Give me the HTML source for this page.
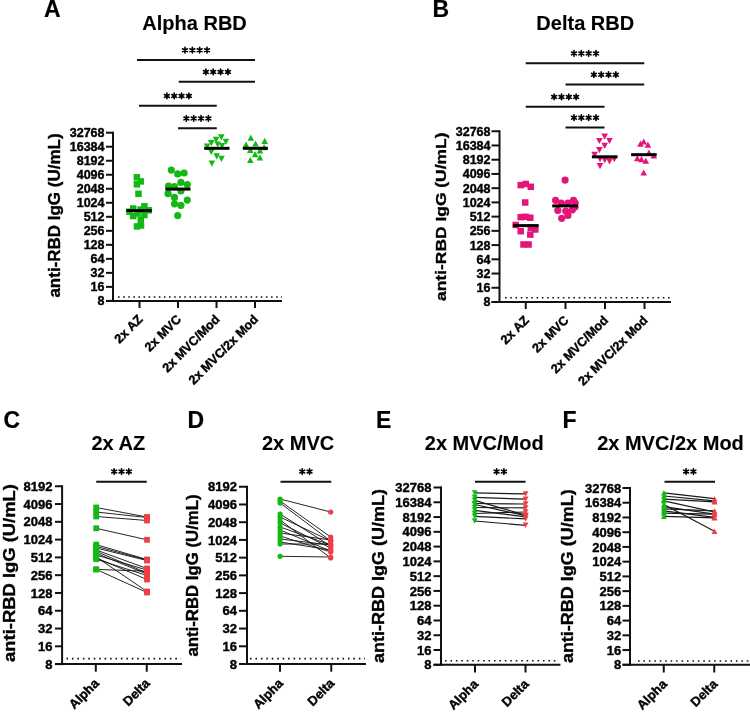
<!DOCTYPE html>
<html><head><meta charset="utf-8"><style>
html,body{margin:0;padding:0;background:#fff;width:750px;height:712px;overflow:hidden}
svg{display:block;will-change:transform}
text{font-family:"Liberation Sans", sans-serif;fill:#000;stroke:#000;stroke-width:0.4px}
</style></head><body>
<svg width="750" height="712" viewBox="0 0 750 712">
<rect x="133.65" y="174.05" width="6.5" height="6.5" fill="#14b814"/>
<rect x="137.55" y="178.15" width="6.5" height="6.5" fill="#14b814"/>
<rect x="133.65" y="181.05" width="6.5" height="6.5" fill="#14b814"/>
<rect x="135.25" y="190.55" width="6.5" height="6.5" fill="#14b814"/>
<rect x="129.95" y="205.25" width="6.5" height="6.5" fill="#14b814"/>
<rect x="141.15" y="203.05" width="6.5" height="6.5" fill="#14b814"/>
<rect x="137.35" y="206.35" width="6.5" height="6.5" fill="#14b814"/>
<rect x="145.45" y="207.05" width="6.5" height="6.5" fill="#14b814"/>
<rect x="126.25" y="208.45" width="6.5" height="6.5" fill="#14b814"/>
<rect x="129.95" y="212.75" width="6.5" height="6.5" fill="#14b814"/>
<rect x="141.15" y="211.75" width="6.5" height="6.5" fill="#14b814"/>
<rect x="137.55" y="216.45" width="6.5" height="6.5" fill="#14b814"/>
<rect x="133.75" y="223.15" width="6.5" height="6.5" fill="#14b814"/>
<rect x="137.75" y="222.25" width="6.5" height="6.5" fill="#14b814"/>
<rect x="134.25" y="210.25" width="6.5" height="6.5" fill="#14b814"/>
<circle cx="171.30" cy="170.10" r="3.6" fill="#14b814"/>
<circle cx="177.70" cy="173.90" r="3.6" fill="#14b814"/>
<circle cx="184.10" cy="173.00" r="3.6" fill="#14b814"/>
<circle cx="180.90" cy="182.40" r="3.6" fill="#14b814"/>
<circle cx="187.30" cy="184.60" r="3.6" fill="#14b814"/>
<circle cx="168.60" cy="186.20" r="3.6" fill="#14b814"/>
<circle cx="174.50" cy="186.70" r="3.6" fill="#14b814"/>
<circle cx="180.90" cy="191.00" r="3.6" fill="#14b814"/>
<circle cx="168.10" cy="193.70" r="3.6" fill="#14b814"/>
<circle cx="174.50" cy="197.40" r="3.6" fill="#14b814"/>
<circle cx="187.30" cy="200.10" r="3.6" fill="#14b814"/>
<circle cx="174.50" cy="203.80" r="3.6" fill="#14b814"/>
<circle cx="180.90" cy="205.40" r="3.6" fill="#14b814"/>
<circle cx="177.70" cy="215.60" r="3.6" fill="#14b814"/>
<polygon points="218.00,134.30 224.60,134.30 221.30,140.50" fill="#14b814"/>
<polygon points="212.80,136.80 219.40,136.80 216.10,143.00" fill="#14b814"/>
<polygon points="222.60,138.80 229.20,138.80 225.90,145.00" fill="#14b814"/>
<polygon points="208.00,140.00 214.60,140.00 211.30,146.20" fill="#14b814"/>
<polygon points="214.40,141.40 221.00,141.40 217.70,147.60" fill="#14b814"/>
<polygon points="203.80,143.60 210.40,143.60 207.10,149.80" fill="#14b814"/>
<polygon points="218.70,142.90 225.30,142.90 222.00,149.10" fill="#14b814"/>
<polygon points="208.00,148.90 214.60,148.90 211.30,155.10" fill="#14b814"/>
<polygon points="213.40,153.20 220.00,153.20 216.70,159.40" fill="#14b814"/>
<polygon points="218.20,155.80 224.80,155.80 221.50,162.00" fill="#14b814"/>
<polygon points="208.60,160.60 215.20,160.60 211.90,166.80" fill="#14b814"/>
<polygon points="247.50,140.70 254.10,140.70 250.80,134.50" fill="#14b814"/>
<polygon points="261.40,143.90 268.00,143.90 264.70,137.70" fill="#14b814"/>
<polygon points="242.70,147.60 249.30,147.60 246.00,141.40" fill="#14b814"/>
<polygon points="252.30,146.60 258.90,146.60 255.60,140.40" fill="#14b814"/>
<polygon points="260.80,150.30 267.40,150.30 264.10,144.10" fill="#14b814"/>
<polygon points="247.00,153.00 253.60,153.00 250.30,146.80" fill="#14b814"/>
<polygon points="256.60,153.50 263.20,153.50 259.90,147.30" fill="#14b814"/>
<polygon points="251.80,157.20 258.40,157.20 255.10,151.00" fill="#14b814"/>
<polygon points="256.60,160.40 263.20,160.40 259.90,154.20" fill="#14b814"/>
<polygon points="247.00,163.10 253.60,163.10 250.30,156.90" fill="#14b814"/>
<line x1="126.2" y1="210.6" x2="151.7" y2="210.6" stroke="#000" stroke-width="3"/>
<line x1="165.4" y1="189.1" x2="190.5" y2="189.1" stroke="#000" stroke-width="3"/>
<line x1="204.2" y1="148.3" x2="229.5" y2="148.3" stroke="#000" stroke-width="3"/>
<line x1="242.8" y1="148.3" x2="267.9" y2="148.3" stroke="#000" stroke-width="3"/>
<rect x="517.45" y="181.85" width="6.5" height="6.5" fill="#e5147a"/>
<rect x="522.55" y="180.75" width="6.5" height="6.5" fill="#e5147a"/>
<rect x="527.55" y="183.55" width="6.5" height="6.5" fill="#e5147a"/>
<rect x="521.95" y="199.25" width="6.5" height="6.5" fill="#e5147a"/>
<rect x="517.45" y="213.85" width="6.5" height="6.5" fill="#e5147a"/>
<rect x="527.05" y="214.45" width="6.5" height="6.5" fill="#e5147a"/>
<rect x="512.45" y="221.75" width="6.5" height="6.5" fill="#e5147a"/>
<rect x="517.45" y="227.95" width="6.5" height="6.5" fill="#e5147a"/>
<rect x="527.55" y="224.55" width="6.5" height="6.5" fill="#e5147a"/>
<rect x="532.05" y="226.25" width="6.5" height="6.5" fill="#e5147a"/>
<rect x="527.05" y="231.35" width="6.5" height="6.5" fill="#e5147a"/>
<rect x="520.25" y="241.25" width="6.5" height="6.5" fill="#e5147a"/>
<rect x="525.35" y="241.25" width="6.5" height="6.5" fill="#e5147a"/>
<rect x="522.25" y="213.55" width="6.5" height="6.5" fill="#e5147a"/>
<circle cx="565.10" cy="180.10" r="3.6" fill="#e5147a"/>
<circle cx="555.60" cy="200.30" r="3.6" fill="#e5147a"/>
<circle cx="573.50" cy="200.30" r="3.6" fill="#e5147a"/>
<circle cx="561.20" cy="203.10" r="3.6" fill="#e5147a"/>
<circle cx="567.90" cy="203.10" r="3.6" fill="#e5147a"/>
<circle cx="575.20" cy="203.10" r="3.6" fill="#e5147a"/>
<circle cx="557.80" cy="210.40" r="3.6" fill="#e5147a"/>
<circle cx="565.70" cy="211.00" r="3.6" fill="#e5147a"/>
<circle cx="572.40" cy="209.80" r="3.6" fill="#e5147a"/>
<circle cx="567.90" cy="215.40" r="3.6" fill="#e5147a"/>
<circle cx="561.70" cy="218.30" r="3.6" fill="#e5147a"/>
<circle cx="575.00" cy="207.00" r="3.6" fill="#e5147a"/>
<polygon points="601.40,133.60 608.00,133.60 604.70,139.80" fill="#e5147a"/>
<polygon points="596.10,137.90 602.70,137.90 599.40,144.10" fill="#e5147a"/>
<polygon points="606.20,137.90 612.80,137.90 609.50,144.10" fill="#e5147a"/>
<polygon points="601.40,142.70 608.00,142.70 604.70,148.90" fill="#e5147a"/>
<polygon points="596.10,147.00 602.70,147.00 599.40,153.20" fill="#e5147a"/>
<polygon points="591.30,151.80 597.90,151.80 594.60,158.00" fill="#e5147a"/>
<polygon points="596.70,156.00 603.30,156.00 600.00,162.20" fill="#e5147a"/>
<polygon points="601.40,157.10 608.00,157.10 604.70,163.30" fill="#e5147a"/>
<polygon points="606.20,158.20 612.80,158.20 609.50,164.40" fill="#e5147a"/>
<polygon points="611.00,156.00 617.60,156.00 614.30,162.20" fill="#e5147a"/>
<polygon points="596.70,163.00 603.30,163.00 600.00,169.20" fill="#e5147a"/>
<polygon points="637.20,146.80 643.80,146.80 640.50,140.60" fill="#e5147a"/>
<polygon points="640.40,144.60 647.00,144.60 643.70,138.40" fill="#e5147a"/>
<polygon points="644.60,147.80 651.20,147.80 647.90,141.60" fill="#e5147a"/>
<polygon points="645.70,155.80 652.30,155.80 649.00,149.60" fill="#e5147a"/>
<polygon points="650.50,158.50 657.10,158.50 653.80,152.30" fill="#e5147a"/>
<polygon points="634.00,161.20 640.60,161.20 637.30,155.00" fill="#e5147a"/>
<polygon points="638.20,162.20 644.80,162.20 641.50,156.00" fill="#e5147a"/>
<polygon points="642.50,163.80 649.10,163.80 645.80,157.60" fill="#e5147a"/>
<polygon points="640.40,175.60 647.00,175.60 643.70,169.40" fill="#e5147a"/>
<line x1="512.9" y1="225.6" x2="538.7" y2="225.6" stroke="#000" stroke-width="3"/>
<line x1="552.2" y1="205.9" x2="578" y2="205.9" stroke="#000" stroke-width="3"/>
<line x1="591.9" y1="156.8" x2="617.5" y2="156.8" stroke="#000" stroke-width="3"/>
<line x1="631.1" y1="154.7" x2="656.7" y2="154.7" stroke="#000" stroke-width="3"/>
<line x1="96.2" y1="507.5" x2="147" y2="517" stroke="#1a1a1a" stroke-width="0.95"/>
<line x1="96.2" y1="512" x2="147" y2="517.5" stroke="#1a1a1a" stroke-width="0.95"/>
<line x1="96.2" y1="516.5" x2="147" y2="520.5" stroke="#1a1a1a" stroke-width="0.95"/>
<line x1="96.2" y1="528.3" x2="147" y2="539.8" stroke="#1a1a1a" stroke-width="0.95"/>
<line x1="96.2" y1="544.6" x2="147" y2="559.5" stroke="#1a1a1a" stroke-width="0.95"/>
<line x1="96.2" y1="546.4" x2="147" y2="560" stroke="#1a1a1a" stroke-width="0.95"/>
<line x1="96.2" y1="548" x2="147" y2="560.5" stroke="#1a1a1a" stroke-width="0.95"/>
<line x1="96.2" y1="550" x2="147" y2="568.5" stroke="#1a1a1a" stroke-width="0.95"/>
<line x1="96.2" y1="551.4" x2="147" y2="573" stroke="#1a1a1a" stroke-width="0.95"/>
<line x1="96.2" y1="553.3" x2="147" y2="574" stroke="#1a1a1a" stroke-width="0.95"/>
<line x1="96.2" y1="555" x2="147" y2="570" stroke="#1a1a1a" stroke-width="0.95"/>
<line x1="96.2" y1="556.9" x2="147" y2="591.5" stroke="#1a1a1a" stroke-width="0.95"/>
<line x1="96.2" y1="557.8" x2="147" y2="579.5" stroke="#1a1a1a" stroke-width="0.95"/>
<line x1="96.2" y1="559.2" x2="147" y2="575.5" stroke="#1a1a1a" stroke-width="0.95"/>
<line x1="96.2" y1="569.4" x2="147" y2="571.2" stroke="#1a1a1a" stroke-width="0.95"/>
<line x1="96.2" y1="569.4" x2="147" y2="592.5" stroke="#1a1a1a" stroke-width="0.95"/>
<rect x="93.30" y="504.60" width="5.8" height="5.8" fill="#14b814"/>
<rect x="93.30" y="509.10" width="5.8" height="5.8" fill="#14b814"/>
<rect x="93.30" y="513.60" width="5.8" height="5.8" fill="#14b814"/>
<rect x="93.30" y="525.40" width="5.8" height="5.8" fill="#14b814"/>
<rect x="93.30" y="541.70" width="5.8" height="5.8" fill="#14b814"/>
<rect x="93.30" y="543.50" width="5.8" height="5.8" fill="#14b814"/>
<rect x="93.30" y="545.10" width="5.8" height="5.8" fill="#14b814"/>
<rect x="93.30" y="547.10" width="5.8" height="5.8" fill="#14b814"/>
<rect x="93.30" y="548.50" width="5.8" height="5.8" fill="#14b814"/>
<rect x="93.30" y="550.40" width="5.8" height="5.8" fill="#14b814"/>
<rect x="93.30" y="552.10" width="5.8" height="5.8" fill="#14b814"/>
<rect x="93.30" y="554.00" width="5.8" height="5.8" fill="#14b814"/>
<rect x="93.30" y="554.90" width="5.8" height="5.8" fill="#14b814"/>
<rect x="93.30" y="556.30" width="5.8" height="5.8" fill="#14b814"/>
<rect x="93.30" y="566.50" width="5.8" height="5.8" fill="#14b814"/>
<rect x="93.30" y="566.50" width="5.8" height="5.8" fill="#14b814"/>
<rect x="144.10" y="514.10" width="5.8" height="5.8" fill="#ef3e47"/>
<rect x="144.10" y="514.60" width="5.8" height="5.8" fill="#ef3e47"/>
<rect x="144.10" y="517.60" width="5.8" height="5.8" fill="#ef3e47"/>
<rect x="144.10" y="536.90" width="5.8" height="5.8" fill="#ef3e47"/>
<rect x="144.10" y="556.60" width="5.8" height="5.8" fill="#ef3e47"/>
<rect x="144.10" y="557.10" width="5.8" height="5.8" fill="#ef3e47"/>
<rect x="144.10" y="557.60" width="5.8" height="5.8" fill="#ef3e47"/>
<rect x="144.10" y="565.60" width="5.8" height="5.8" fill="#ef3e47"/>
<rect x="144.10" y="570.10" width="5.8" height="5.8" fill="#ef3e47"/>
<rect x="144.10" y="571.10" width="5.8" height="5.8" fill="#ef3e47"/>
<rect x="144.10" y="567.10" width="5.8" height="5.8" fill="#ef3e47"/>
<rect x="144.10" y="588.60" width="5.8" height="5.8" fill="#ef3e47"/>
<rect x="144.10" y="576.60" width="5.8" height="5.8" fill="#ef3e47"/>
<rect x="144.10" y="572.60" width="5.8" height="5.8" fill="#ef3e47"/>
<rect x="144.10" y="568.30" width="5.8" height="5.8" fill="#ef3e47"/>
<rect x="144.10" y="589.60" width="5.8" height="5.8" fill="#ef3e47"/>
<line x1="280.1" y1="499" x2="330.7" y2="512" stroke="#1a1a1a" stroke-width="0.95"/>
<line x1="280.1" y1="501" x2="330.7" y2="537" stroke="#1a1a1a" stroke-width="0.95"/>
<line x1="280.1" y1="503" x2="330.7" y2="541" stroke="#1a1a1a" stroke-width="0.95"/>
<line x1="280.1" y1="514" x2="330.7" y2="546" stroke="#1a1a1a" stroke-width="0.95"/>
<line x1="280.1" y1="517" x2="330.7" y2="541" stroke="#1a1a1a" stroke-width="0.95"/>
<line x1="280.1" y1="520" x2="330.7" y2="558" stroke="#1a1a1a" stroke-width="0.95"/>
<line x1="280.1" y1="523" x2="330.7" y2="548" stroke="#1a1a1a" stroke-width="0.95"/>
<line x1="280.1" y1="527" x2="330.7" y2="545" stroke="#1a1a1a" stroke-width="0.95"/>
<line x1="280.1" y1="530" x2="330.7" y2="551" stroke="#1a1a1a" stroke-width="0.95"/>
<line x1="280.1" y1="533" x2="330.7" y2="540" stroke="#1a1a1a" stroke-width="0.95"/>
<line x1="280.1" y1="536" x2="330.7" y2="552" stroke="#1a1a1a" stroke-width="0.95"/>
<line x1="280.1" y1="539" x2="330.7" y2="545" stroke="#1a1a1a" stroke-width="0.95"/>
<line x1="280.1" y1="542" x2="330.7" y2="550" stroke="#1a1a1a" stroke-width="0.95"/>
<line x1="280.1" y1="544" x2="330.7" y2="544" stroke="#1a1a1a" stroke-width="0.95"/>
<line x1="280.1" y1="556.3" x2="330.7" y2="557" stroke="#1a1a1a" stroke-width="0.95"/>
<circle cx="280.10" cy="499.00" r="2.6" fill="#14b814"/>
<circle cx="280.10" cy="501.00" r="2.6" fill="#14b814"/>
<circle cx="280.10" cy="503.00" r="2.6" fill="#14b814"/>
<circle cx="280.10" cy="514.00" r="2.6" fill="#14b814"/>
<circle cx="280.10" cy="517.00" r="2.6" fill="#14b814"/>
<circle cx="280.10" cy="520.00" r="2.6" fill="#14b814"/>
<circle cx="280.10" cy="523.00" r="2.6" fill="#14b814"/>
<circle cx="280.10" cy="527.00" r="2.6" fill="#14b814"/>
<circle cx="280.10" cy="530.00" r="2.6" fill="#14b814"/>
<circle cx="280.10" cy="533.00" r="2.6" fill="#14b814"/>
<circle cx="280.10" cy="536.00" r="2.6" fill="#14b814"/>
<circle cx="280.10" cy="539.00" r="2.6" fill="#14b814"/>
<circle cx="280.10" cy="542.00" r="2.6" fill="#14b814"/>
<circle cx="280.10" cy="544.00" r="2.6" fill="#14b814"/>
<circle cx="280.10" cy="556.30" r="2.6" fill="#14b814"/>
<circle cx="330.70" cy="512.00" r="2.6" fill="#ef3e47"/>
<circle cx="330.70" cy="537.00" r="2.6" fill="#ef3e47"/>
<circle cx="330.70" cy="541.00" r="2.6" fill="#ef3e47"/>
<circle cx="330.70" cy="546.00" r="2.6" fill="#ef3e47"/>
<circle cx="330.70" cy="541.00" r="2.6" fill="#ef3e47"/>
<circle cx="330.70" cy="558.00" r="2.6" fill="#ef3e47"/>
<circle cx="330.70" cy="548.00" r="2.6" fill="#ef3e47"/>
<circle cx="330.70" cy="545.00" r="2.6" fill="#ef3e47"/>
<circle cx="330.70" cy="551.00" r="2.6" fill="#ef3e47"/>
<circle cx="330.70" cy="540.00" r="2.6" fill="#ef3e47"/>
<circle cx="330.70" cy="552.00" r="2.6" fill="#ef3e47"/>
<circle cx="330.70" cy="545.00" r="2.6" fill="#ef3e47"/>
<circle cx="330.70" cy="550.00" r="2.6" fill="#ef3e47"/>
<circle cx="330.70" cy="544.00" r="2.6" fill="#ef3e47"/>
<circle cx="330.70" cy="557.00" r="2.6" fill="#ef3e47"/>
<line x1="474.7" y1="492.9" x2="525.6" y2="493.9" stroke="#1a1a1a" stroke-width="1.2"/>
<line x1="474.7" y1="497.3" x2="525.6" y2="499.2" stroke="#1a1a1a" stroke-width="1.2"/>
<line x1="474.7" y1="500.3" x2="525.6" y2="515.2" stroke="#1a1a1a" stroke-width="1.2"/>
<line x1="474.7" y1="503.5" x2="525.6" y2="504" stroke="#1a1a1a" stroke-width="1.2"/>
<line x1="474.7" y1="504.5" x2="525.6" y2="515.7" stroke="#1a1a1a" stroke-width="1.2"/>
<line x1="474.7" y1="507.5" x2="525.6" y2="507.9" stroke="#1a1a1a" stroke-width="1.2"/>
<line x1="474.7" y1="510.3" x2="525.6" y2="516.8" stroke="#1a1a1a" stroke-width="1.2"/>
<line x1="474.7" y1="513.5" x2="525.6" y2="512" stroke="#1a1a1a" stroke-width="1.2"/>
<line x1="474.7" y1="516.3" x2="525.6" y2="518.9" stroke="#1a1a1a" stroke-width="1.2"/>
<line x1="474.7" y1="521" x2="525.6" y2="525.3" stroke="#1a1a1a" stroke-width="1.2"/>
<polygon points="471.80,490.20 477.60,490.20 474.70,495.60" fill="#14b814"/>
<polygon points="471.80,494.60 477.60,494.60 474.70,500.00" fill="#14b814"/>
<polygon points="471.80,497.60 477.60,497.60 474.70,503.00" fill="#14b814"/>
<polygon points="471.80,500.80 477.60,500.80 474.70,506.20" fill="#14b814"/>
<polygon points="471.80,501.80 477.60,501.80 474.70,507.20" fill="#14b814"/>
<polygon points="471.80,504.80 477.60,504.80 474.70,510.20" fill="#14b814"/>
<polygon points="471.80,507.60 477.60,507.60 474.70,513.00" fill="#14b814"/>
<polygon points="471.80,510.80 477.60,510.80 474.70,516.20" fill="#14b814"/>
<polygon points="471.80,513.60 477.60,513.60 474.70,519.00" fill="#14b814"/>
<polygon points="471.80,518.30 477.60,518.30 474.70,523.70" fill="#14b814"/>
<polygon points="522.70,491.20 528.50,491.20 525.60,496.60" fill="#ef3e47"/>
<polygon points="522.70,496.50 528.50,496.50 525.60,501.90" fill="#ef3e47"/>
<polygon points="522.70,512.50 528.50,512.50 525.60,517.90" fill="#ef3e47"/>
<polygon points="522.70,501.30 528.50,501.30 525.60,506.70" fill="#ef3e47"/>
<polygon points="522.70,513.00 528.50,513.00 525.60,518.40" fill="#ef3e47"/>
<polygon points="522.70,505.20 528.50,505.20 525.60,510.60" fill="#ef3e47"/>
<polygon points="522.70,514.10 528.50,514.10 525.60,519.50" fill="#ef3e47"/>
<polygon points="522.70,509.30 528.50,509.30 525.60,514.70" fill="#ef3e47"/>
<polygon points="522.70,516.20 528.50,516.20 525.60,521.60" fill="#ef3e47"/>
<polygon points="522.70,522.60 528.50,522.60 525.60,528.00" fill="#ef3e47"/>
<line x1="663.9" y1="492.8" x2="714.5" y2="498.7" stroke="#1a1a1a" stroke-width="1.2"/>
<line x1="663.9" y1="496" x2="714.5" y2="500.8" stroke="#1a1a1a" stroke-width="1.2"/>
<line x1="663.9" y1="499.2" x2="714.5" y2="501.9" stroke="#1a1a1a" stroke-width="1.2"/>
<line x1="663.9" y1="500.8" x2="714.5" y2="512" stroke="#1a1a1a" stroke-width="1.2"/>
<line x1="663.9" y1="504.5" x2="714.5" y2="531.2" stroke="#1a1a1a" stroke-width="1.2"/>
<line x1="663.9" y1="506.7" x2="714.5" y2="514.1" stroke="#1a1a1a" stroke-width="1.2"/>
<line x1="663.9" y1="508.8" x2="714.5" y2="510.9" stroke="#1a1a1a" stroke-width="1.2"/>
<line x1="663.9" y1="510.9" x2="714.5" y2="517.3" stroke="#1a1a1a" stroke-width="1.2"/>
<line x1="663.9" y1="513.1" x2="714.5" y2="514.1" stroke="#1a1a1a" stroke-width="1.2"/>
<line x1="663.9" y1="516.3" x2="714.5" y2="517.9" stroke="#1a1a1a" stroke-width="1.2"/>
<polygon points="661.00,495.50 666.80,495.50 663.90,490.10" fill="#14b814"/>
<polygon points="661.00,498.70 666.80,498.70 663.90,493.30" fill="#14b814"/>
<polygon points="661.00,501.90 666.80,501.90 663.90,496.50" fill="#14b814"/>
<polygon points="661.00,503.50 666.80,503.50 663.90,498.10" fill="#14b814"/>
<polygon points="661.00,507.20 666.80,507.20 663.90,501.80" fill="#14b814"/>
<polygon points="661.00,509.40 666.80,509.40 663.90,504.00" fill="#14b814"/>
<polygon points="661.00,511.50 666.80,511.50 663.90,506.10" fill="#14b814"/>
<polygon points="661.00,513.60 666.80,513.60 663.90,508.20" fill="#14b814"/>
<polygon points="661.00,515.80 666.80,515.80 663.90,510.40" fill="#14b814"/>
<polygon points="661.00,519.00 666.80,519.00 663.90,513.60" fill="#14b814"/>
<polygon points="711.60,501.40 717.40,501.40 714.50,496.00" fill="#ef3e47"/>
<polygon points="711.60,503.50 717.40,503.50 714.50,498.10" fill="#ef3e47"/>
<polygon points="711.60,504.60 717.40,504.60 714.50,499.20" fill="#ef3e47"/>
<polygon points="711.60,514.70 717.40,514.70 714.50,509.30" fill="#ef3e47"/>
<polygon points="711.60,533.90 717.40,533.90 714.50,528.50" fill="#ef3e47"/>
<polygon points="711.60,516.80 717.40,516.80 714.50,511.40" fill="#ef3e47"/>
<polygon points="711.60,513.60 717.40,513.60 714.50,508.20" fill="#ef3e47"/>
<polygon points="711.60,520.00 717.40,520.00 714.50,514.60" fill="#ef3e47"/>
<polygon points="711.60,516.80 717.40,516.80 714.50,511.40" fill="#ef3e47"/>
<polygon points="711.60,520.60 717.40,520.60 714.50,515.20" fill="#ef3e47"/>
<line x1="113" y1="131.7" x2="113" y2="301.9" stroke="#111" stroke-width="2"/>
<line x1="106" y1="132.7" x2="113" y2="132.7" stroke="#111" stroke-width="2"/>
<text x="104.5" y="137.1375" font-size="12.5" text-anchor="end" font-weight="bold">32768</text>
<line x1="106" y1="146.71666666666664" x2="113" y2="146.71666666666664" stroke="#111" stroke-width="2"/>
<text x="104.5" y="151.15416666666664" font-size="12.5" text-anchor="end" font-weight="bold">16384</text>
<line x1="106" y1="160.73333333333332" x2="113" y2="160.73333333333332" stroke="#111" stroke-width="2"/>
<text x="104.5" y="165.17083333333332" font-size="12.5" text-anchor="end" font-weight="bold">8192</text>
<line x1="106" y1="174.75" x2="113" y2="174.75" stroke="#111" stroke-width="2"/>
<text x="104.5" y="179.1875" font-size="12.5" text-anchor="end" font-weight="bold">4096</text>
<line x1="106" y1="188.76666666666665" x2="113" y2="188.76666666666665" stroke="#111" stroke-width="2"/>
<text x="104.5" y="193.20416666666665" font-size="12.5" text-anchor="end" font-weight="bold">2048</text>
<line x1="106" y1="202.7833333333333" x2="113" y2="202.7833333333333" stroke="#111" stroke-width="2"/>
<text x="104.5" y="207.2208333333333" font-size="12.5" text-anchor="end" font-weight="bold">1024</text>
<line x1="106" y1="216.79999999999998" x2="113" y2="216.79999999999998" stroke="#111" stroke-width="2"/>
<text x="104.5" y="221.23749999999998" font-size="12.5" text-anchor="end" font-weight="bold">512</text>
<line x1="106" y1="230.81666666666666" x2="113" y2="230.81666666666666" stroke="#111" stroke-width="2"/>
<text x="104.5" y="235.25416666666666" font-size="12.5" text-anchor="end" font-weight="bold">256</text>
<line x1="106" y1="244.83333333333331" x2="113" y2="244.83333333333331" stroke="#111" stroke-width="2"/>
<text x="104.5" y="249.27083333333331" font-size="12.5" text-anchor="end" font-weight="bold">128</text>
<line x1="106" y1="258.84999999999997" x2="113" y2="258.84999999999997" stroke="#111" stroke-width="2"/>
<text x="104.5" y="263.28749999999997" font-size="12.5" text-anchor="end" font-weight="bold">64</text>
<line x1="106" y1="272.8666666666667" x2="113" y2="272.8666666666667" stroke="#111" stroke-width="2"/>
<text x="104.5" y="277.3041666666667" font-size="12.5" text-anchor="end" font-weight="bold">32</text>
<line x1="106" y1="286.8833333333333" x2="113" y2="286.8833333333333" stroke="#111" stroke-width="2"/>
<text x="104.5" y="291.3208333333333" font-size="12.5" text-anchor="end" font-weight="bold">16</text>
<line x1="106" y1="300.9" x2="113" y2="300.9" stroke="#111" stroke-width="2"/>
<text x="104.5" y="305.3375" font-size="12.5" text-anchor="end" font-weight="bold">8</text>
<line x1="106" y1="300.9" x2="282" y2="300.9" stroke="#111" stroke-width="2"/>
<line x1="139.5" y1="300.9" x2="139.5" y2="308" stroke="#111" stroke-width="2"/>
<line x1="178" y1="300.9" x2="178" y2="308" stroke="#111" stroke-width="2"/>
<line x1="216.5" y1="300.9" x2="216.5" y2="308" stroke="#111" stroke-width="2"/>
<line x1="255" y1="300.9" x2="255" y2="308" stroke="#111" stroke-width="2"/>
<line x1="118" y1="297" x2="282" y2="297" stroke="#111" stroke-width="1.6" stroke-dasharray="1.6 3.4999999999999996"/>
<text x="143.5" y="320" font-size="12.6" text-anchor="end" font-weight="bold" transform="rotate(-45 143.5 320)">2x AZ</text>
<text x="182" y="320" font-size="12.6" text-anchor="end" font-weight="bold" transform="rotate(-45 182 320)">2x MVC</text>
<text x="220.5" y="320" font-size="12.6" text-anchor="end" font-weight="bold" transform="rotate(-45 220.5 320)">2x MVC/Mod</text>
<text x="259" y="320" font-size="12.6" text-anchor="end" font-weight="bold" transform="rotate(-45 259 320)">2x MVC/2x Mod</text>
<text x="0" y="0" font-size="17" text-anchor="middle" font-weight="bold" transform="translate(59.5 215.5) rotate(-90) scale(1 0.94)">anti-RBD IgG (U/mL)</text>
<text x="44" y="17.4" font-size="23" text-anchor="start" font-weight="bold" style="stroke-width:0.2px">A</text>
<text x="194.6" y="29.6" font-size="20" text-anchor="middle" font-weight="bold" style="stroke-width:0.12px">Alpha RBD</text>
<line x1="499.5" y1="130.25" x2="499.5" y2="303" stroke="#111" stroke-width="2"/>
<line x1="491.5" y1="131.25" x2="499.5" y2="131.25" stroke="#111" stroke-width="2"/>
<text x="490.5" y="135.6875" font-size="12.5" text-anchor="end" font-weight="bold">32768</text>
<line x1="491.5" y1="145.47916666666666" x2="499.5" y2="145.47916666666666" stroke="#111" stroke-width="2"/>
<text x="490.5" y="149.91666666666666" font-size="12.5" text-anchor="end" font-weight="bold">16384</text>
<line x1="491.5" y1="159.70833333333334" x2="499.5" y2="159.70833333333334" stroke="#111" stroke-width="2"/>
<text x="490.5" y="164.14583333333334" font-size="12.5" text-anchor="end" font-weight="bold">8192</text>
<line x1="491.5" y1="173.9375" x2="499.5" y2="173.9375" stroke="#111" stroke-width="2"/>
<text x="490.5" y="178.375" font-size="12.5" text-anchor="end" font-weight="bold">4096</text>
<line x1="491.5" y1="188.16666666666666" x2="499.5" y2="188.16666666666666" stroke="#111" stroke-width="2"/>
<text x="490.5" y="192.60416666666666" font-size="12.5" text-anchor="end" font-weight="bold">2048</text>
<line x1="491.5" y1="202.39583333333331" x2="499.5" y2="202.39583333333331" stroke="#111" stroke-width="2"/>
<text x="490.5" y="206.83333333333331" font-size="12.5" text-anchor="end" font-weight="bold">1024</text>
<line x1="491.5" y1="216.625" x2="499.5" y2="216.625" stroke="#111" stroke-width="2"/>
<text x="490.5" y="221.0625" font-size="12.5" text-anchor="end" font-weight="bold">512</text>
<line x1="491.5" y1="230.85416666666666" x2="499.5" y2="230.85416666666666" stroke="#111" stroke-width="2"/>
<text x="490.5" y="235.29166666666666" font-size="12.5" text-anchor="end" font-weight="bold">256</text>
<line x1="491.5" y1="245.08333333333331" x2="499.5" y2="245.08333333333331" stroke="#111" stroke-width="2"/>
<text x="490.5" y="249.52083333333331" font-size="12.5" text-anchor="end" font-weight="bold">128</text>
<line x1="491.5" y1="259.3125" x2="499.5" y2="259.3125" stroke="#111" stroke-width="2"/>
<text x="490.5" y="263.75" font-size="12.5" text-anchor="end" font-weight="bold">64</text>
<line x1="491.5" y1="273.54166666666663" x2="499.5" y2="273.54166666666663" stroke="#111" stroke-width="2"/>
<text x="490.5" y="277.97916666666663" font-size="12.5" text-anchor="end" font-weight="bold">32</text>
<line x1="491.5" y1="287.7708333333333" x2="499.5" y2="287.7708333333333" stroke="#111" stroke-width="2"/>
<text x="490.5" y="292.2083333333333" font-size="12.5" text-anchor="end" font-weight="bold">16</text>
<line x1="491.5" y1="302.0" x2="499.5" y2="302.0" stroke="#111" stroke-width="2"/>
<text x="490.5" y="306.4375" font-size="12.5" text-anchor="end" font-weight="bold">8</text>
<line x1="491.5" y1="302" x2="671" y2="302" stroke="#111" stroke-width="2"/>
<line x1="525.75" y1="302" x2="525.75" y2="309" stroke="#111" stroke-width="2"/>
<line x1="565.5" y1="302" x2="565.5" y2="309" stroke="#111" stroke-width="2"/>
<line x1="605" y1="302" x2="605" y2="309" stroke="#111" stroke-width="2"/>
<line x1="644.5" y1="302" x2="644.5" y2="309" stroke="#111" stroke-width="2"/>
<line x1="505" y1="297.7" x2="671" y2="297.7" stroke="#111" stroke-width="1.6" stroke-dasharray="1.6 3.6599999999999997"/>
<text x="529.75" y="321" font-size="12.6" text-anchor="end" font-weight="bold" transform="rotate(-45 529.75 321)">2x AZ</text>
<text x="569.5" y="321" font-size="12.6" text-anchor="end" font-weight="bold" transform="rotate(-45 569.5 321)">2x MVC</text>
<text x="609" y="321" font-size="12.6" text-anchor="end" font-weight="bold" transform="rotate(-45 609 321)">2x MVC/Mod</text>
<text x="648.5" y="321" font-size="12.6" text-anchor="end" font-weight="bold" transform="rotate(-45 648.5 321)">2x MVC/2x Mod</text>
<text x="0" y="0" font-size="17.45" text-anchor="middle" font-weight="bold" transform="translate(446 216.75) rotate(-90) scale(1 0.88)">anti-RBD IgG (U/mL)</text>
<text x="432.5" y="17" font-size="23" text-anchor="start" font-weight="bold" style="stroke-width:0.2px">B</text>
<text x="585.25" y="29.8" font-size="20" text-anchor="middle" font-weight="bold" style="stroke-width:0.12px">Delta RBD</text>
<line x1="62.1" y1="485.25" x2="62.1" y2="665.1" stroke="#111" stroke-width="2"/>
<line x1="55" y1="486.25" x2="62.1" y2="486.25" stroke="#111" stroke-width="2"/>
<text x="52.5" y="490.865" font-size="13" text-anchor="end" font-weight="bold">8192</text>
<line x1="55" y1="504.035" x2="62.1" y2="504.035" stroke="#111" stroke-width="2"/>
<text x="52.5" y="508.65000000000003" font-size="13" text-anchor="end" font-weight="bold">4096</text>
<line x1="55" y1="521.82" x2="62.1" y2="521.82" stroke="#111" stroke-width="2"/>
<text x="52.5" y="526.4350000000001" font-size="13" text-anchor="end" font-weight="bold">2048</text>
<line x1="55" y1="539.605" x2="62.1" y2="539.605" stroke="#111" stroke-width="2"/>
<text x="52.5" y="544.22" font-size="13" text-anchor="end" font-weight="bold">1024</text>
<line x1="55" y1="557.39" x2="62.1" y2="557.39" stroke="#111" stroke-width="2"/>
<text x="52.5" y="562.005" font-size="13" text-anchor="end" font-weight="bold">512</text>
<line x1="55" y1="575.175" x2="62.1" y2="575.175" stroke="#111" stroke-width="2"/>
<text x="52.5" y="579.79" font-size="13" text-anchor="end" font-weight="bold">256</text>
<line x1="55" y1="592.96" x2="62.1" y2="592.96" stroke="#111" stroke-width="2"/>
<text x="52.5" y="597.575" font-size="13" text-anchor="end" font-weight="bold">128</text>
<line x1="55" y1="610.745" x2="62.1" y2="610.745" stroke="#111" stroke-width="2"/>
<text x="52.5" y="615.36" font-size="13" text-anchor="end" font-weight="bold">64</text>
<line x1="55" y1="628.53" x2="62.1" y2="628.53" stroke="#111" stroke-width="2"/>
<text x="52.5" y="633.145" font-size="13" text-anchor="end" font-weight="bold">32</text>
<line x1="55" y1="646.315" x2="62.1" y2="646.315" stroke="#111" stroke-width="2"/>
<text x="52.5" y="650.9300000000001" font-size="13" text-anchor="end" font-weight="bold">16</text>
<line x1="55" y1="664.1" x2="62.1" y2="664.1" stroke="#111" stroke-width="2"/>
<text x="52.5" y="668.715" font-size="13" text-anchor="end" font-weight="bold">8</text>
<line x1="55" y1="664.1" x2="182" y2="664.1" stroke="#111" stroke-width="2"/>
<line x1="95.8" y1="664.1" x2="95.8" y2="671.7" stroke="#111" stroke-width="2"/>
<line x1="146.75" y1="664.1" x2="146.75" y2="671.7" stroke="#111" stroke-width="2"/>
<line x1="66.5" y1="658.6" x2="181" y2="658.6" stroke="#111" stroke-width="1.6" stroke-dasharray="1.6 3.8400000000000003"/>
<text x="99.8" y="684.2" font-size="13" text-anchor="end" font-weight="bold" transform="rotate(-45 99.8 684.2)">Alpha</text>
<text x="150.75" y="684.2" font-size="13" text-anchor="end" font-weight="bold" transform="rotate(-45 150.75 684.2)">Delta</text>
<text x="0" y="0" font-size="18.4" text-anchor="middle" font-weight="bold" transform="translate(14.5 573) rotate(-90) scale(1 0.9)">anti-RBD IgG (U/mL)</text>
<text x="3.5" y="427.5" font-size="23" text-anchor="start" font-weight="bold" style="stroke-width:0.2px">C</text>
<text x="118.25" y="449.7" font-size="20" text-anchor="middle" font-weight="bold" style="stroke-width:0.12px">2x AZ</text>
<line x1="247" y1="485.75" x2="247" y2="665" stroke="#111" stroke-width="2"/>
<line x1="239" y1="486.75" x2="247" y2="486.75" stroke="#111" stroke-width="2"/>
<text x="237" y="491.365" font-size="13" text-anchor="end" font-weight="bold">8192</text>
<line x1="239" y1="504.475" x2="247" y2="504.475" stroke="#111" stroke-width="2"/>
<text x="237" y="509.09000000000003" font-size="13" text-anchor="end" font-weight="bold">4096</text>
<line x1="239" y1="522.2" x2="247" y2="522.2" stroke="#111" stroke-width="2"/>
<text x="237" y="526.815" font-size="13" text-anchor="end" font-weight="bold">2048</text>
<line x1="239" y1="539.925" x2="247" y2="539.925" stroke="#111" stroke-width="2"/>
<text x="237" y="544.54" font-size="13" text-anchor="end" font-weight="bold">1024</text>
<line x1="239" y1="557.65" x2="247" y2="557.65" stroke="#111" stroke-width="2"/>
<text x="237" y="562.265" font-size="13" text-anchor="end" font-weight="bold">512</text>
<line x1="239" y1="575.375" x2="247" y2="575.375" stroke="#111" stroke-width="2"/>
<text x="237" y="579.99" font-size="13" text-anchor="end" font-weight="bold">256</text>
<line x1="239" y1="593.1" x2="247" y2="593.1" stroke="#111" stroke-width="2"/>
<text x="237" y="597.715" font-size="13" text-anchor="end" font-weight="bold">128</text>
<line x1="239" y1="610.825" x2="247" y2="610.825" stroke="#111" stroke-width="2"/>
<text x="237" y="615.44" font-size="13" text-anchor="end" font-weight="bold">64</text>
<line x1="239" y1="628.55" x2="247" y2="628.55" stroke="#111" stroke-width="2"/>
<text x="237" y="633.165" font-size="13" text-anchor="end" font-weight="bold">32</text>
<line x1="239" y1="646.275" x2="247" y2="646.275" stroke="#111" stroke-width="2"/>
<text x="237" y="650.89" font-size="13" text-anchor="end" font-weight="bold">16</text>
<line x1="239" y1="664.0" x2="247" y2="664.0" stroke="#111" stroke-width="2"/>
<text x="237" y="668.615" font-size="13" text-anchor="end" font-weight="bold">8</text>
<line x1="239" y1="664" x2="366" y2="664" stroke="#111" stroke-width="2"/>
<line x1="280" y1="664" x2="280" y2="671.7" stroke="#111" stroke-width="2"/>
<line x1="331.25" y1="664" x2="331.25" y2="671.7" stroke="#111" stroke-width="2"/>
<line x1="250" y1="658.6" x2="365" y2="658.6" stroke="#111" stroke-width="1.6" stroke-dasharray="1.6 3.8400000000000003"/>
<text x="284" y="684.2" font-size="13" text-anchor="end" font-weight="bold" transform="rotate(-45 284 684.2)">Alpha</text>
<text x="335.25" y="684.2" font-size="13" text-anchor="end" font-weight="bold" transform="rotate(-45 335.25 684.2)">Delta</text>
<text x="0" y="0" font-size="16.8" text-anchor="middle" font-weight="bold" transform="translate(198 575.5) rotate(-90) scale(1 1)">anti-RBD IgG (U/mL)</text>
<text x="187.5" y="427.5" font-size="23" text-anchor="start" font-weight="bold" style="stroke-width:0.2px">D</text>
<text x="298.1" y="449.7" font-size="20" text-anchor="middle" font-weight="bold" style="stroke-width:0.12px">2x MVC</text>
<line x1="441" y1="486.5" x2="441" y2="665.8" stroke="#111" stroke-width="2"/>
<line x1="433.5" y1="487.5" x2="441" y2="487.5" stroke="#111" stroke-width="2"/>
<text x="431.5" y="492.115" font-size="13" text-anchor="end" font-weight="bold">32768</text>
<line x1="433.5" y1="502.275" x2="441" y2="502.275" stroke="#111" stroke-width="2"/>
<text x="431.5" y="506.89" font-size="13" text-anchor="end" font-weight="bold">16384</text>
<line x1="433.5" y1="517.05" x2="441" y2="517.05" stroke="#111" stroke-width="2"/>
<text x="431.5" y="521.665" font-size="13" text-anchor="end" font-weight="bold">8192</text>
<line x1="433.5" y1="531.825" x2="441" y2="531.825" stroke="#111" stroke-width="2"/>
<text x="431.5" y="536.44" font-size="13" text-anchor="end" font-weight="bold">4096</text>
<line x1="433.5" y1="546.6" x2="441" y2="546.6" stroke="#111" stroke-width="2"/>
<text x="431.5" y="551.215" font-size="13" text-anchor="end" font-weight="bold">2048</text>
<line x1="433.5" y1="561.375" x2="441" y2="561.375" stroke="#111" stroke-width="2"/>
<text x="431.5" y="565.99" font-size="13" text-anchor="end" font-weight="bold">1024</text>
<line x1="433.5" y1="576.15" x2="441" y2="576.15" stroke="#111" stroke-width="2"/>
<text x="431.5" y="580.765" font-size="13" text-anchor="end" font-weight="bold">512</text>
<line x1="433.5" y1="590.925" x2="441" y2="590.925" stroke="#111" stroke-width="2"/>
<text x="431.5" y="595.54" font-size="13" text-anchor="end" font-weight="bold">256</text>
<line x1="433.5" y1="605.6999999999999" x2="441" y2="605.6999999999999" stroke="#111" stroke-width="2"/>
<text x="431.5" y="610.3149999999999" font-size="13" text-anchor="end" font-weight="bold">128</text>
<line x1="433.5" y1="620.4749999999999" x2="441" y2="620.4749999999999" stroke="#111" stroke-width="2"/>
<text x="431.5" y="625.0899999999999" font-size="13" text-anchor="end" font-weight="bold">64</text>
<line x1="433.5" y1="635.25" x2="441" y2="635.25" stroke="#111" stroke-width="2"/>
<text x="431.5" y="639.865" font-size="13" text-anchor="end" font-weight="bold">32</text>
<line x1="433.5" y1="650.025" x2="441" y2="650.025" stroke="#111" stroke-width="2"/>
<text x="431.5" y="654.64" font-size="13" text-anchor="end" font-weight="bold">16</text>
<line x1="433.5" y1="664.8" x2="441" y2="664.8" stroke="#111" stroke-width="2"/>
<text x="431.5" y="669.415" font-size="13" text-anchor="end" font-weight="bold">8</text>
<line x1="433.5" y1="664.8" x2="560.4" y2="664.8" stroke="#111" stroke-width="2"/>
<line x1="475" y1="664.8" x2="475" y2="672.5" stroke="#111" stroke-width="2"/>
<line x1="525.5" y1="664.8" x2="525.5" y2="672.5" stroke="#111" stroke-width="2"/>
<line x1="445" y1="660.8" x2="559" y2="660.8" stroke="#111" stroke-width="1.6" stroke-dasharray="1.6 3.8400000000000003"/>
<text x="479" y="685.0" font-size="13" text-anchor="end" font-weight="bold" transform="rotate(-45 479 685.0)">Alpha</text>
<text x="529.5" y="685.0" font-size="13" text-anchor="end" font-weight="bold" transform="rotate(-45 529.5 685.0)">Delta</text>
<text x="0" y="0" font-size="18" text-anchor="middle" font-weight="bold" transform="translate(383.5 576) rotate(-90) scale(1 0.95)">anti-RBD IgG (U/mL)</text>
<text x="376" y="427.5" font-size="23" text-anchor="start" font-weight="bold" style="stroke-width:0.2px">E</text>
<text x="484.25" y="449.7" font-size="20" text-anchor="middle" font-weight="bold" style="stroke-width:0.12px">2x MVC/Mod</text>
<line x1="630" y1="487" x2="630" y2="665.8" stroke="#111" stroke-width="2"/>
<line x1="622.5" y1="488.0" x2="630" y2="488.0" stroke="#111" stroke-width="2"/>
<text x="621.25" y="492.615" font-size="13" text-anchor="end" font-weight="bold">32768</text>
<line x1="622.5" y1="502.73333333333335" x2="630" y2="502.73333333333335" stroke="#111" stroke-width="2"/>
<text x="621.25" y="507.34833333333336" font-size="13" text-anchor="end" font-weight="bold">16384</text>
<line x1="622.5" y1="517.4666666666667" x2="630" y2="517.4666666666667" stroke="#111" stroke-width="2"/>
<text x="621.25" y="522.0816666666667" font-size="13" text-anchor="end" font-weight="bold">8192</text>
<line x1="622.5" y1="532.2" x2="630" y2="532.2" stroke="#111" stroke-width="2"/>
<text x="621.25" y="536.815" font-size="13" text-anchor="end" font-weight="bold">4096</text>
<line x1="622.5" y1="546.9333333333333" x2="630" y2="546.9333333333333" stroke="#111" stroke-width="2"/>
<text x="621.25" y="551.5483333333333" font-size="13" text-anchor="end" font-weight="bold">2048</text>
<line x1="622.5" y1="561.6666666666666" x2="630" y2="561.6666666666666" stroke="#111" stroke-width="2"/>
<text x="621.25" y="566.2816666666666" font-size="13" text-anchor="end" font-weight="bold">1024</text>
<line x1="622.5" y1="576.4" x2="630" y2="576.4" stroke="#111" stroke-width="2"/>
<text x="621.25" y="581.015" font-size="13" text-anchor="end" font-weight="bold">512</text>
<line x1="622.5" y1="591.1333333333333" x2="630" y2="591.1333333333333" stroke="#111" stroke-width="2"/>
<text x="621.25" y="595.7483333333333" font-size="13" text-anchor="end" font-weight="bold">256</text>
<line x1="622.5" y1="605.8666666666667" x2="630" y2="605.8666666666667" stroke="#111" stroke-width="2"/>
<text x="621.25" y="610.4816666666667" font-size="13" text-anchor="end" font-weight="bold">128</text>
<line x1="622.5" y1="620.5999999999999" x2="630" y2="620.5999999999999" stroke="#111" stroke-width="2"/>
<text x="621.25" y="625.2149999999999" font-size="13" text-anchor="end" font-weight="bold">64</text>
<line x1="622.5" y1="635.3333333333333" x2="630" y2="635.3333333333333" stroke="#111" stroke-width="2"/>
<text x="621.25" y="639.9483333333333" font-size="13" text-anchor="end" font-weight="bold">32</text>
<line x1="622.5" y1="650.0666666666666" x2="630" y2="650.0666666666666" stroke="#111" stroke-width="2"/>
<text x="621.25" y="654.6816666666666" font-size="13" text-anchor="end" font-weight="bold">16</text>
<line x1="622.5" y1="664.8" x2="630" y2="664.8" stroke="#111" stroke-width="2"/>
<text x="621.25" y="669.415" font-size="13" text-anchor="end" font-weight="bold">8</text>
<line x1="622.5" y1="664.8" x2="750" y2="664.8" stroke="#111" stroke-width="2"/>
<line x1="663.75" y1="664.8" x2="663.75" y2="672.5" stroke="#111" stroke-width="2"/>
<line x1="714.25" y1="664.8" x2="714.25" y2="672.5" stroke="#111" stroke-width="2"/>
<line x1="638" y1="661" x2="750" y2="661" stroke="#111" stroke-width="1.6" stroke-dasharray="1.6 3.8400000000000003"/>
<text x="667.75" y="685.0" font-size="13" text-anchor="end" font-weight="bold" transform="rotate(-45 667.75 685.0)">Alpha</text>
<text x="718.25" y="685.0" font-size="13" text-anchor="end" font-weight="bold" transform="rotate(-45 718.25 685.0)">Delta</text>
<text x="0" y="0" font-size="18" text-anchor="middle" font-weight="bold" transform="translate(572.8 576.2) rotate(-90) scale(1 0.9)">anti-RBD IgG (U/mL)</text>
<text x="562.5" y="427.5" font-size="23" text-anchor="start" font-weight="bold" style="stroke-width:0.2px">F</text>
<text x="670.5" y="449.7" font-size="20" text-anchor="middle" font-weight="bold" style="stroke-width:0.12px">2x MVC/2x Mod</text>
<line x1="137" y1="60" x2="255" y2="60" stroke="#111" stroke-width="2"/>
<path d="M185.00 47.40V53.00M182.58 48.80L187.43 51.60M182.58 51.60L187.43 48.80" stroke="#000" stroke-width="1.65" stroke-linecap="round" fill="none"/>
<path d="M192.34 47.40V53.00M189.91 48.80L194.76 51.60M189.91 51.60L194.76 48.80" stroke="#000" stroke-width="1.65" stroke-linecap="round" fill="none"/>
<path d="M199.66 47.40V53.00M197.24 48.80L202.09 51.60M197.24 51.60L202.09 48.80" stroke="#000" stroke-width="1.65" stroke-linecap="round" fill="none"/>
<path d="M207.00 47.40V53.00M204.57 48.80L209.42 51.60M204.57 51.60L209.42 48.80" stroke="#000" stroke-width="1.65" stroke-linecap="round" fill="none"/>
<line x1="178.75" y1="81.75" x2="255" y2="81.75" stroke="#111" stroke-width="2"/>
<path d="M205.88 69.15V74.75M203.46 70.55L208.30 73.35M203.46 73.35L208.30 70.55" stroke="#000" stroke-width="1.65" stroke-linecap="round" fill="none"/>
<path d="M213.21 69.15V74.75M210.79 70.55L215.63 73.35M210.79 73.35L215.63 70.55" stroke="#000" stroke-width="1.65" stroke-linecap="round" fill="none"/>
<path d="M220.54 69.15V74.75M218.12 70.55L222.96 73.35M218.12 73.35L222.96 70.55" stroke="#000" stroke-width="1.65" stroke-linecap="round" fill="none"/>
<path d="M227.87 69.15V74.75M225.45 70.55L230.29 73.35M225.45 73.35L230.29 70.55" stroke="#000" stroke-width="1.65" stroke-linecap="round" fill="none"/>
<line x1="139" y1="105.75" x2="216.75" y2="105.75" stroke="#111" stroke-width="2"/>
<path d="M166.88 93.15V98.75M164.46 94.55L169.30 97.35M164.46 97.35L169.30 94.55" stroke="#000" stroke-width="1.65" stroke-linecap="round" fill="none"/>
<path d="M174.21 93.15V98.75M171.79 94.55L176.63 97.35M171.79 97.35L176.63 94.55" stroke="#000" stroke-width="1.65" stroke-linecap="round" fill="none"/>
<path d="M181.54 93.15V98.75M179.12 94.55L183.96 97.35M179.12 97.35L183.96 94.55" stroke="#000" stroke-width="1.65" stroke-linecap="round" fill="none"/>
<path d="M188.87 93.15V98.75M186.45 94.55L191.29 97.35M186.45 97.35L191.29 94.55" stroke="#000" stroke-width="1.65" stroke-linecap="round" fill="none"/>
<line x1="178" y1="128.25" x2="216.75" y2="128.25" stroke="#111" stroke-width="2"/>
<path d="M186.38 115.65V121.25M183.96 117.05L188.80 119.85M183.96 119.85L188.80 117.05" stroke="#000" stroke-width="1.65" stroke-linecap="round" fill="none"/>
<path d="M193.71 115.65V121.25M191.29 117.05L196.13 119.85M191.29 119.85L196.13 117.05" stroke="#000" stroke-width="1.65" stroke-linecap="round" fill="none"/>
<path d="M201.04 115.65V121.25M198.62 117.05L203.46 119.85M198.62 119.85L203.46 117.05" stroke="#000" stroke-width="1.65" stroke-linecap="round" fill="none"/>
<path d="M208.37 115.65V121.25M205.95 117.05L210.79 119.85M205.95 119.85L210.79 117.05" stroke="#000" stroke-width="1.65" stroke-linecap="round" fill="none"/>
<line x1="525.75" y1="63.25" x2="644.25" y2="63.25" stroke="#111" stroke-width="2"/>
<path d="M574.00 50.65V56.25M571.58 52.05L576.43 54.85M571.58 54.85L576.43 52.05" stroke="#000" stroke-width="1.65" stroke-linecap="round" fill="none"/>
<path d="M581.34 50.65V56.25M578.91 52.05L583.76 54.85M578.91 54.85L583.76 52.05" stroke="#000" stroke-width="1.65" stroke-linecap="round" fill="none"/>
<path d="M588.66 50.65V56.25M586.24 52.05L591.09 54.85M586.24 54.85L591.09 52.05" stroke="#000" stroke-width="1.65" stroke-linecap="round" fill="none"/>
<path d="M596.00 50.65V56.25M593.57 52.05L598.42 54.85M593.57 54.85L598.42 52.05" stroke="#000" stroke-width="1.65" stroke-linecap="round" fill="none"/>
<line x1="565.5" y1="84.5" x2="644.25" y2="84.5" stroke="#111" stroke-width="2"/>
<path d="M593.88 71.90V77.50M591.46 73.30L596.30 76.10M591.46 76.10L596.30 73.30" stroke="#000" stroke-width="1.65" stroke-linecap="round" fill="none"/>
<path d="M601.21 71.90V77.50M598.79 73.30L603.63 76.10M598.79 76.10L603.63 73.30" stroke="#000" stroke-width="1.65" stroke-linecap="round" fill="none"/>
<path d="M608.54 71.90V77.50M606.12 73.30L610.96 76.10M606.12 76.10L610.96 73.30" stroke="#000" stroke-width="1.65" stroke-linecap="round" fill="none"/>
<path d="M615.87 71.90V77.50M613.45 73.30L618.29 76.10M613.45 76.10L618.29 73.30" stroke="#000" stroke-width="1.65" stroke-linecap="round" fill="none"/>
<line x1="525.75" y1="106.75" x2="604.5" y2="106.75" stroke="#111" stroke-width="2"/>
<path d="M554.13 94.15V99.75M551.71 95.55L556.55 98.35M551.71 98.35L556.55 95.55" stroke="#000" stroke-width="1.65" stroke-linecap="round" fill="none"/>
<path d="M561.46 94.15V99.75M559.04 95.55L563.88 98.35M559.04 98.35L563.88 95.55" stroke="#000" stroke-width="1.65" stroke-linecap="round" fill="none"/>
<path d="M568.79 94.15V99.75M566.37 95.55L571.21 98.35M566.37 98.35L571.21 95.55" stroke="#000" stroke-width="1.65" stroke-linecap="round" fill="none"/>
<path d="M576.12 94.15V99.75M573.70 95.55L578.54 98.35M573.70 98.35L578.54 95.55" stroke="#000" stroke-width="1.65" stroke-linecap="round" fill="none"/>
<line x1="565.5" y1="127.5" x2="604.5" y2="127.5" stroke="#111" stroke-width="2"/>
<path d="M574.00 114.90V120.50M571.58 116.30L576.43 119.10M571.58 119.10L576.43 116.30" stroke="#000" stroke-width="1.65" stroke-linecap="round" fill="none"/>
<path d="M581.34 114.90V120.50M578.91 116.30L583.76 119.10M578.91 119.10L583.76 116.30" stroke="#000" stroke-width="1.65" stroke-linecap="round" fill="none"/>
<path d="M588.66 114.90V120.50M586.24 116.30L591.09 119.10M586.24 119.10L591.09 116.30" stroke="#000" stroke-width="1.65" stroke-linecap="round" fill="none"/>
<path d="M596.00 114.90V120.50M593.57 116.30L598.42 119.10M593.57 119.10L598.42 116.30" stroke="#000" stroke-width="1.65" stroke-linecap="round" fill="none"/>
<line x1="96.25" y1="481.75" x2="146.75" y2="481.75" stroke="#111" stroke-width="2"/>
<path d="M114.17 468.75V474.35M111.75 470.15L116.59 472.95M111.75 472.95L116.59 470.15" stroke="#000" stroke-width="1.65" stroke-linecap="round" fill="none"/>
<path d="M121.50 468.75V474.35M119.08 470.15L123.92 472.95M119.08 472.95L123.92 470.15" stroke="#000" stroke-width="1.65" stroke-linecap="round" fill="none"/>
<path d="M128.83 468.75V474.35M126.41 470.15L131.25 472.95M126.41 472.95L131.25 470.15" stroke="#000" stroke-width="1.65" stroke-linecap="round" fill="none"/>
<line x1="280.5" y1="481.75" x2="331.25" y2="481.75" stroke="#111" stroke-width="2"/>
<path d="M302.21 468.75V474.35M299.79 470.15L304.63 472.95M299.79 472.95L304.63 470.15" stroke="#000" stroke-width="1.65" stroke-linecap="round" fill="none"/>
<path d="M309.54 468.75V474.35M307.12 470.15L311.96 472.95M307.12 472.95L311.96 470.15" stroke="#000" stroke-width="1.65" stroke-linecap="round" fill="none"/>
<line x1="475" y1="481.75" x2="525.5" y2="481.75" stroke="#111" stroke-width="2"/>
<path d="M496.58 468.75V474.35M494.16 470.15L499.01 472.95M494.16 472.95L499.01 470.15" stroke="#000" stroke-width="1.65" stroke-linecap="round" fill="none"/>
<path d="M503.92 468.75V474.35M501.49 470.15L506.34 472.95M501.49 472.95L506.34 470.15" stroke="#000" stroke-width="1.65" stroke-linecap="round" fill="none"/>
<line x1="664.5" y1="481.75" x2="715" y2="481.75" stroke="#111" stroke-width="2"/>
<path d="M686.09 468.75V474.35M683.66 470.15L688.51 472.95M683.66 472.95L688.51 470.15" stroke="#000" stroke-width="1.65" stroke-linecap="round" fill="none"/>
<path d="M693.41 468.75V474.35M690.99 470.15L695.84 472.95M690.99 472.95L695.84 470.15" stroke="#000" stroke-width="1.65" stroke-linecap="round" fill="none"/>
</svg></body></html>
